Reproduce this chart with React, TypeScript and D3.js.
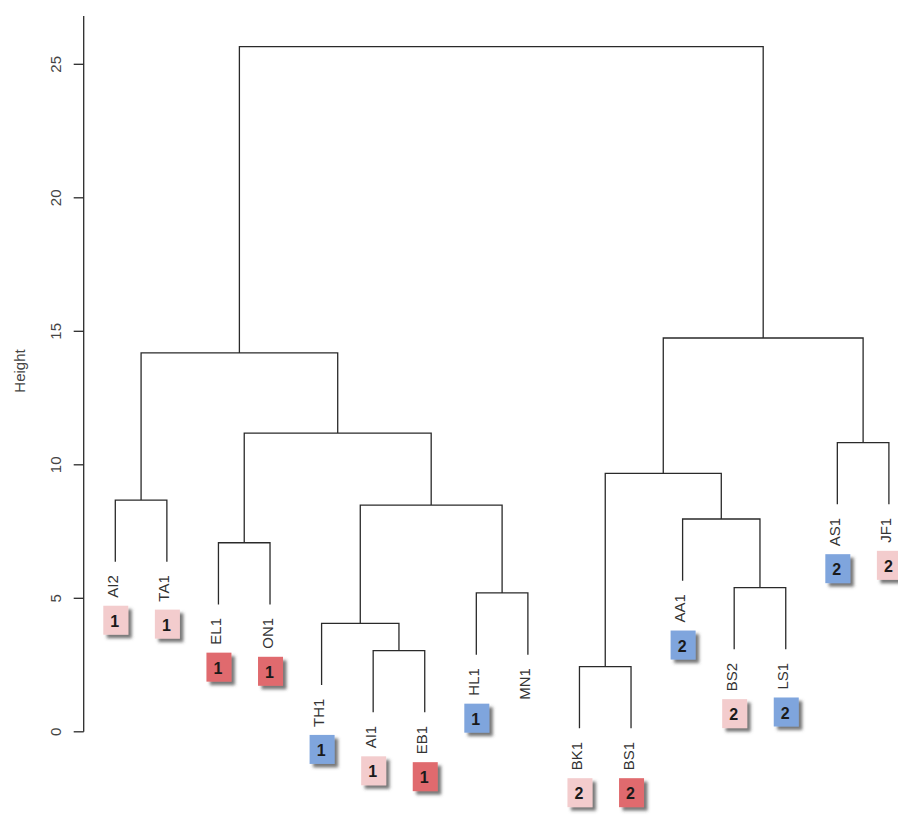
import React, { useEffect, useRef } from "react";
import * as d3 from "d3";

// Leaves in dendrogram order
const leafLabels = ["AI2", "TA1", "EL1", "ON1", "TH1", "AI1", "EB1", "HL1", "MN1", "BK1", "BS1", "AA1", "BS2", "LS1", "AS1", "JF1"];
// Cluster tag shown in the box under each leaf (0 = no box)
const boxCluster = [1, 1, 1, 1, 1, 1, 1, 1, 0, 2, 2, 2, 2, 2, 2, 2];
// Box shade for each leaf
const boxTone = ["pale", "pale", "rose", "rose", "blue", "pale", "rose", "blue", "", "pale", "rose", "blue", "pale", "blue", "blue", "pale"];

// hclust-style merge table: negative = leaf (1-based), positive = earlier merge row (1-based)
const mergeLeft = [-10, -6, -5, -8, -13, -3, -12, 3, -1, 1, -15, 6, 9, 10, 13];
const mergeRight = [-11, -7, 2, -9, -14, -4, 5, 4, -2, 7, -16, 8, 12, 11, 14];
const mergeHeight = [2.44, 3.04, 4.06, 5.2, 5.4, 7.08, 7.97, 8.49, 8.68, 9.68, 10.83, 11.19, 14.19, 14.75, 25.66];

const yTicks = [0, 5, 10, 15, 20, 25];
const hang = 2.31;

const toneFill: Record<string, string> = {
  pale: "#f3cccd",
  rose: "#e06b6e",
  blue: "#7fa5dd",
};

const FONT = "'Liberation Sans', Arial, sans-serif";

export default function App() {
  const ref = useRef<SVGSVGElement | null>(null);

  useEffect(() => {
    const svg = d3.select(ref.current);
    svg.selectAll("*").remove();

    const x = d3.scalePoint<string>().domain(leafLabels).range([115.3, 888.9]);
    const y = d3.scaleLinear().domain([0, 25]).range([731.8, 64.3]);

    const defs = svg.append("defs");
    const f = defs
      .append("filter")
      .attr("id", "boxShadow")
      .attr("x", "-30%")
      .attr("y", "-30%")
      .attr("width", "170%")
      .attr("height", "170%");
    f.append("feDropShadow")
      .attr("dx", 3.5)
      .attr("dy", 3.5)
      .attr("stdDeviation", 1.4)
      .attr("flood-color", "#4a4a4a")
      .attr("flood-opacity", 0.75);

    // node positions
    const nodeX: number[] = [];
    const childX = (c: number) => (c < 0 ? (x(leafLabels[-c - 1]) as number) : nodeX[c - 1]);
    mergeHeight.forEach((_, i) => {
      nodeX[i] = (childX(mergeLeft[i]) + childX(mergeRight[i])) / 2;
    });

    const leafEnd: number[] = new Array(leafLabels.length).fill(0);
    const g = svg.append("g");
    mergeHeight.forEach((h, i) => {
      const childY = (c: number) => {
        if (c < 0) {
          leafEnd[-c - 1] = h - hang;
          return y(h - hang);
        }
        return y(mergeHeight[c - 1]);
      };
      const xl = childX(mergeLeft[i]);
      const xr = childX(mergeRight[i]);
      const yl = childY(mergeLeft[i]);
      const yr = childY(mergeRight[i]);
      const yh = y(h);
      g.append("path")
        .attr("d", `M${xl},${yl}V${yh}H${xr}V${yr}`)
        .attr("fill", "none")
        .attr("stroke", "#2a2a2a")
        .attr("stroke-width", 1.3);
    });

    // y axis
    const axisX = 83.7;
    const ax = svg.append("g");
    ax.append("line")
      .attr("x1", axisX)
      .attr("x2", axisX)
      .attr("y1", y(0))
      .attr("y2", 16)
      .attr("stroke", "#2a2a2a")
      .attr("stroke-width", 1.3);
    yTicks.forEach((t) => {
      ax.append("line")
        .attr("x1", axisX - 10)
        .attr("x2", axisX)
        .attr("y1", y(t))
        .attr("y2", y(t))
        .attr("stroke", "#2a2a2a")
        .attr("stroke-width", 1.3);
      ax.append("text")
        .attr("transform", `translate(55,${y(t)}) rotate(-90)`)
        .attr("text-anchor", "middle")
        .attr("dominant-baseline", "central")
        .attr("font-family", FONT)
        .attr("font-size", 15)
        .attr("fill", "#444")
        .text(String(t));
    });
    svg.append("text")
      .attr("transform", `translate(19,371) rotate(-90)`)
      .attr("text-anchor", "middle")
      .attr("dominant-baseline", "central")
      .attr("font-family", FONT)
      .attr("font-size", 15)
      .attr("fill", "#444")
      .text("Height");

    // leaf labels and cluster boxes
    leafLabels.forEach((lab, i) => {
      const lx = x(lab) as number;
      const top = y(leafEnd[i]) + 13.5;
      const txt = svg
        .append("text")
        .attr("transform", `translate(${lx - 3},${top}) rotate(-90)`)
        .attr("text-anchor", "end")
        .attr("dominant-baseline", "central")
        .attr("font-family", FONT)
        .attr("font-size", 15)
        .attr("fill", "#333")
        .text(lab);
      const len = (txt.node() as SVGTextElement).getComputedTextLength();
      if (!boxCluster[i]) return;
      const bw = 25;
      const bh = 29;
      const by = top + len + 8;
      const bx = lx - bw / 2 + 0.5;
      svg.append("rect")
        .attr("x", bx)
        .attr("y", by)
        .attr("width", bw)
        .attr("height", bh)
        .attr("fill", toneFill[boxTone[i]])
        .attr("filter", "url(#boxShadow)");
      svg.append("text")
        .attr("x", bx + bw / 2 - 1)
        .attr("y", by + bh / 2 + 1)
        .attr("text-anchor", "middle")
        .attr("dominant-baseline", "central")
        .attr("font-family", FONT)
        .attr("font-size", 16)
        .attr("font-weight", "bold")
        .attr("fill", "#1a1a1a")
        .text(String(boxCluster[i]));
    });
  }, []);

  return (
    <svg
      ref={ref}
      width={898}
      height={819}
      style={{ position: "absolute", left: 0, top: 0, background: "#fff" }}
    />
  );
}
